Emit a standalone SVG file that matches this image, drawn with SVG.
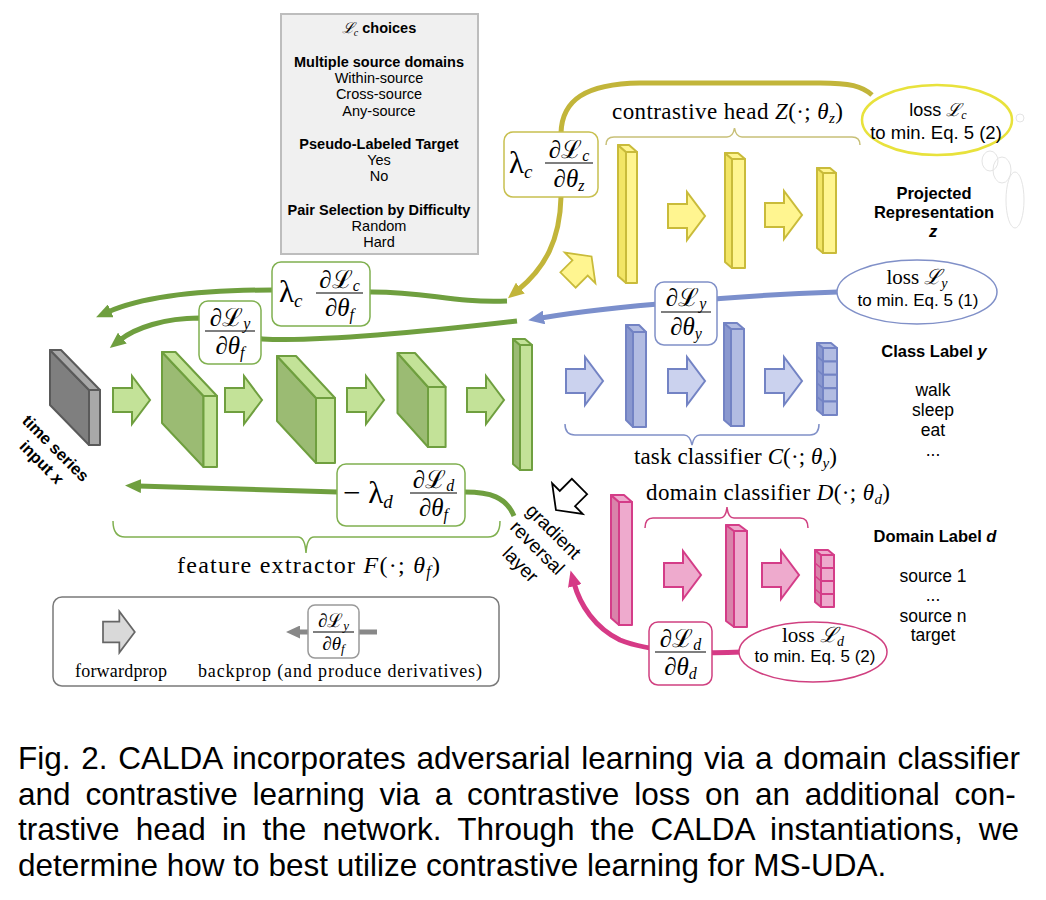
<svg xmlns="http://www.w3.org/2000/svg" width="1046" height="900" viewBox="0 0 1046 900">
<style>
.sans{font-family:"Liberation Sans",Arial,sans-serif;}
.serif,.mt{font-family:"Liberation Serif","DejaVu Serif",serif;}
.b{font-weight:bold;}
.i{font-style:italic;}
.mid{text-anchor:middle;}
.k-dk{fill:#7f7f7f;stroke:#5a5a5a;stroke-width:2;stroke-linejoin:round;}
.k-lt{fill:#a8a8a8;stroke:#5a5a5a;stroke-width:2;stroke-linejoin:round;}
.g-dk{fill:#9bbb73;stroke:#6f9f3f;stroke-width:2;stroke-linejoin:round;}
.g-lt{fill:#c3e298;stroke:#6f9f3f;stroke-width:2;stroke-linejoin:round;}
.y-dk{fill:#f2e565;stroke:#c9bb3a;stroke-width:2;stroke-linejoin:round;}
.y-lt{fill:#fff590;stroke:#c9bb3a;stroke-width:2;stroke-linejoin:round;}
.b-dk{fill:#8a98cf;stroke:#7383c4;stroke-width:2;stroke-linejoin:round;}
.b-lt{fill:#b2bce2;stroke:#7383c4;stroke-width:2;stroke-linejoin:round;}
.p-dk{fill:#d983aa;stroke:#d43d88;stroke-width:2;stroke-linejoin:round;}
.p-lt{fill:#eeaacd;stroke:#d43d88;stroke-width:2;stroke-linejoin:round;}
.fa-g{fill:#c3e298;stroke:#6f9f3f;stroke-width:2;stroke-linejoin:miter;}
.fa-y{fill:#fff590;stroke:#c9bb3a;stroke-width:2;}
.fa-b{fill:#cbd2ee;stroke:#7383c4;stroke-width:2;}
.fa-p{fill:#eeaacd;stroke:#d43d88;stroke-width:2;}
.fa-k{fill:#d9d9d9;stroke:#666;stroke-width:2;}
.fa-w{fill:#fff;stroke:#000;stroke-width:2;}
.brace{fill:none;stroke-width:1.5;}
.bk{fill:none;stroke-width:5;stroke-linecap:butt;}
.box{fill:#fff;stroke-width:1.5;}
.fbar{stroke:#000;stroke-width:1.2;}
</style>
<defs>
<path id="barrow" d="M0,-12 L19,-12 L19,-24 L37,0 L19,24 L19,12 L0,12 Z"/>
<marker id="ah-g" markerUnits="userSpaceOnUse" markerWidth="16" markerHeight="14" viewBox="0 0 16 14" refX="3" refY="7" orient="auto"><path d="M0,0 L16,7 L0,14 Z" fill="#6f9f3f"/></marker>
<marker id="ah-y" markerUnits="userSpaceOnUse" markerWidth="16" markerHeight="14" viewBox="0 0 16 14" refX="3" refY="7" orient="auto"><path d="M0,0 L16,7 L0,14 Z" fill="#c2b53a"/></marker>
<marker id="ah-b" markerUnits="userSpaceOnUse" markerWidth="16" markerHeight="14" viewBox="0 0 16 14" refX="3" refY="7" orient="auto"><path d="M0,0 L16,7 L0,14 Z" fill="#7b8fcc"/></marker>
<marker id="ah-p" markerUnits="userSpaceOnUse" markerWidth="16" markerHeight="14" viewBox="0 0 16 14" refX="3" refY="7" orient="auto"><path d="M0,0 L16,7 L0,14 Z" fill="#d63a86"/></marker>
<marker id="ah-k" markerUnits="userSpaceOnUse" markerWidth="14" markerHeight="13" viewBox="0 0 14 13" refX="2" refY="6.5" orient="auto"><path d="M0,0 L14,6.5 L0,13 Z" fill="#888"/></marker>
</defs>

<!-- Lc choices box -->
<g id="lc-choices">
<rect x="281" y="14" width="197" height="240" fill="#f0f0f0" stroke="#bdbdbd" stroke-width="2"/>
<g class="sans mid" font-size="14.5">
<text x="379" y="33" class="b"><tspan class="i serif" font-weight="normal" font-size="15">ℒ</tspan><tspan class="i serif" font-weight="normal" font-size="10" dy="3">c</tspan><tspan dy="-3"> choices</tspan></text>
<text x="379" y="67" class="b">Multiple source domains</text>
<text x="379" y="83">Within-source</text>
<text x="379" y="99">Cross-source</text>
<text x="379" y="116">Any-source</text>
<text x="379" y="149" class="b">Pseudo-Labeled Target</text>
<text x="379" y="165">Yes</text>
<text x="379" y="181">No</text>
<text x="379" y="215" class="b">Pair Selection by Difficulty</text>
<text x="379" y="231">Random</text>
<text x="379" y="247">Hard</text>
</g>
</g>

<!-- input -->
<g id="input">
<polygon class="k-dk" points="50,350 89,390 89,445 50,405"/>
<polygon class="k-lt" points="50,350 61,350 100,390 89,390"/>
<rect class="k-lt" x="89" y="390" width="11" height="55"/>
<g transform="translate(56,448) rotate(45)" class="sans b mid" font-size="16.5">
<text x="0" y="6">time series</text>
<text x="0" y="26">input <tspan class="i">x</tspan></text>
</g>
</g>

<!-- feature extractor -->
<g id="feature-extractor">
<use href="#barrow" class="fa-g" transform="translate(113,400)"/>
<polygon class="g-dk" points="162,352 203.5,396 203.5,467 162,423"/>
<polygon class="g-lt" points="162,352 175.5,352 217,396 203.5,396"/>
<rect class="g-lt" x="203.5" y="396" width="13.5" height="71"/>
<use href="#barrow" class="fa-g" transform="translate(225,400)"/>
<polygon class="g-dk" points="277,356 316,398 316,463 277,421"/>
<polygon class="g-lt" points="277,356 296,356 335,398 316,398"/>
<rect class="g-lt" x="316" y="398" width="19" height="65"/>
<use href="#barrow" class="fa-g" transform="translate(347,400)"/>
<polygon class="g-dk" points="397.5,353 428,387 428,447 397.5,413"/>
<polygon class="g-lt" points="397.5,353 415,353 445.6,387 428,387"/>
<rect class="g-lt" x="428" y="387" width="17.6" height="60"/>
<use href="#barrow" class="fa-g" transform="translate(467,400)"/>
<polygon class="g-dk" points="513,339 520,345 520,470 513,464"/>
<polygon class="g-lt" points="513,339 525,339 532,345 520,345"/>
<rect class="g-lt" x="520" y="345" width="12" height="125"/>
<path class="brace" stroke="#80b050" d="M113,521 Q113,537 125,537 L298,537 Q305,537 306,553 Q307,537 314,537 L488,537 Q500,537 500,521"/>
<text class="serif" x="177" y="573" font-size="24" textLength="263">feature extractor <tspan class="i">F</tspan>(·; <tspan class="i">θ</tspan><tspan class="i" font-size="16" dy="4">f</tspan><tspan dy="-4">)</tspan></text>
</g>

<!-- contrastive head -->
<g id="contrastive-head">
<polygon class="y-dk" points="618,145 626,152 626,283 618,276"/>
<polygon class="y-lt" points="618,145 629,145 637,152 626,152"/>
<rect class="y-lt" x="626" y="152" width="11" height="131"/>
<use href="#barrow" class="fa-y" transform="translate(668,216)"/>
<polygon class="y-dk" points="725,153 732,159 732,268 725,262"/>
<polygon class="y-lt" points="725,153 738,153 745,159 732,159"/>
<rect class="y-lt" x="732" y="159" width="13" height="109"/>
<use href="#barrow" class="fa-y" transform="translate(765,215)"/>
<polygon class="y-dk" points="817,168 823,173 823,253 817,248"/>
<polygon class="y-lt" points="817,168 830,168 836,173 823,173"/>
<rect class="y-lt" x="823" y="173" width="13" height="80"/>
<use href="#barrow" class="fa-y" transform="translate(568,280) rotate(-45) scale(0.9)"/>
<path class="brace" stroke="#c8c078" d="M606,145 Q606,137 614,137 L727,137 Q733,137 734.5,128 Q736,137 742,137 L852,137 Q860,137 860,145"/>
<text class="serif" x="612" y="119" font-size="23" textLength="231">contrastive head <tspan class="i">Z</tspan>(·; <tspan class="i">θ</tspan><tspan class="i" font-size="15" dy="4">z</tspan><tspan dy="-4">)</tspan></text>
</g>

<!-- task classifier -->
<g id="task-classifier">
<use href="#barrow" class="fa-b" transform="translate(566,381)"/>
<polygon class="b-dk" points="626,325 633,332 633,427 626,420"/>
<polygon class="b-lt" points="626,325 639,325 646,332 633,332"/>
<rect class="b-lt" x="633" y="332" width="13" height="95"/>
<use href="#barrow" class="fa-b" transform="translate(668,381)"/>
<polygon class="b-dk" points="724,323 731,329 731,426 724,420"/>
<polygon class="b-lt" points="724,323 737,323 744,329 731,329"/>
<rect class="b-lt" x="731" y="329" width="13" height="97"/>
<use href="#barrow" class="fa-b" transform="translate(765,381)"/>
<polygon class="b-dk" points="817,343 823,348 823,415 817,410"/>
<polygon class="b-lt" points="817,343 831,343 837,348 823,348"/>
<rect class="b-lt" x="823" y="348" width="14" height="13.4"/>
<rect class="b-lt" x="823" y="361.4" width="14" height="13.4"/>
<rect class="b-lt" x="823" y="374.8" width="14" height="13.4"/>
<rect class="b-lt" x="823" y="388.2" width="14" height="13.4"/>
<rect class="b-lt" x="823" y="401.6" width="14" height="13.4"/>
<path d="M817,356.4 L823,361.4 M817,369.8 L823,374.8 M817,383.2 L823,388.2 M817,396.6 L823,401.6" stroke="#7383c4" stroke-width="1.5"/>
<path class="brace" stroke="#8090c8" d="M565,424 Q565,435 575,435 L684,435 Q690,435 692,445 Q694,435 700,435 L810,435 Q819,435 819,424"/>
<text class="serif" x="634" y="464" font-size="23" textLength="203">task classifier <tspan class="i">C</tspan>(·; <tspan class="i">θ</tspan><tspan class="i" font-size="15" dy="4">y</tspan><tspan dy="-4">)</tspan></text>
</g>

<!-- domain classifier -->
<g id="domain-classifier">
<polygon class="p-dk" points="611,495 619,502 619,625 611,618"/>
<polygon class="p-lt" points="611,495 624,495 632,502 619,502"/>
<rect class="p-lt" x="619" y="502" width="13" height="123"/>
<use href="#barrow" class="fa-p" transform="translate(664,575)"/>
<polygon class="p-dk" points="726,525 734,531 734,627 726,621"/>
<polygon class="p-lt" points="726,525 739,525 747,531 734,531"/>
<rect class="p-lt" x="734" y="531" width="13" height="96"/>
<use href="#barrow" class="fa-p" transform="translate(762,575)"/>
<polygon class="p-dk" points="815,550 821,555 821,607 815,602"/>
<polygon class="p-lt" points="815,550 828,550 834,555 821,555"/>
<rect class="p-lt" x="821" y="555" width="13" height="13"/>
<rect class="p-lt" x="821" y="568" width="13" height="13"/>
<rect class="p-lt" x="821" y="581" width="13" height="13"/>
<rect class="p-lt" x="821" y="594" width="13" height="13"/>
<path d="M815,563 L821,568 M815,576 L821,581 M815,589 L821,594" stroke="#d43d88" stroke-width="1.5"/>
<path class="brace" stroke="#d04080" d="M645,528 Q645,518 653,518 L720,518 Q726,518 727,507 Q728,518 734,518 L800,518 Q808,518 808,528"/>
<text class="serif" x="646" y="500" font-size="23" textLength="244">domain classifier <tspan class="i">D</tspan>(·; <tspan class="i">θ</tspan><tspan class="i" font-size="15" dy="4">d</tspan><tspan dy="-4">)</tspan></text>
</g>

<!-- gradient reversal layer -->
<g id="gradient-reversal">
<use href="#barrow" class="fa-w" transform="translate(579.5,486.5) rotate(135) scale(0.9)"/>
<g transform="translate(554,531) rotate(45)" class="sans mid" font-size="19">
<text x="0" y="7">gradient</text>
<text x="0" y="30">reversal</text>
<text x="0" y="54">layer</text>
</g>
</g>

<!-- faint artifacts near contrastive loss -->
<g id="cloud" fill="none" stroke="#e4e4e4" stroke-width="1">
<circle cx="1020" cy="118" r="4"/>
<ellipse cx="990" cy="161" rx="8" ry="10"/>
<ellipse cx="1002" cy="170" rx="9" ry="13"/>
<ellipse cx="1015" cy="200" rx="9" ry="28"/>
</g>

<!-- connectors -->
<g id="connectors">
<path class="bk" stroke="#6f9f3f" marker-end="url(#ah-g)" d="M507,301 C 450,303 430,292 372,292 L 272,290 C 190,290 140,298 108,312"/>
<path class="bk" stroke="#6f9f3f" marker-end="url(#ah-g)" d="M517,321 C 440,330 320,342 262,339 L 199,318 C 165,318 135,328 120,340"/>
<path class="bk" stroke="#6f9f3f" marker-end="url(#ah-g)" d="M514,516 C 506,497 490,492 465,492 L 337,492 L 138,486"/>
<path class="bk" stroke="#c2b53a" marker-end="url(#ah-y)" d="M872,95 C 862,86 850,83 820,83 L 640,83 C 585,84 562,100 561,133 L 561,197 C 560,240 545,268 518,290"/>
<path class="bk" stroke="#7b8fcc" marker-end="url(#ah-b)" d="M838,292 C 780,294 720,298 680,302 C 620,307 570,313 541,318"/>
<path class="bk" stroke="#d63a86" marker-end="url(#ah-p)" d="M742,652 C 700,654 650,652 620,640 C 595,628 580,605 574,583"/>
</g>

<!-- derivative boxes -->
<g id="grad-c-f">
<rect class="box" stroke="#80b050" x="272" y="262" width="98" height="64" rx="9"/>
<text class="mt" x="279" y="302" font-size="31">λ<tspan class="i" font-size="19" dy="5">c</tspan></text>
<text class="mt mid" x="339.5" y="288" font-size="25">∂ℒ<tspan class="i" font-size="16" dy="3">c</tspan></text>
<line class="fbar" x1="316" y1="293" x2="363" y2="293"/>
<text class="mt mid" x="339.5" y="316" font-size="25">∂<tspan class="i">θ</tspan><tspan class="i" font-size="16" dy="4">f</tspan></text>
</g>
<g id="grad-y-f">
<rect class="box" stroke="#80b050" x="199" y="301" width="62" height="63" rx="9"/>
<text class="mt mid" x="230" y="326" font-size="25">∂ℒ<tspan class="i" font-size="16" dy="3">y</tspan></text>
<line class="fbar" x1="205" y1="331" x2="255" y2="331"/>
<text class="mt mid" x="230" y="354" font-size="25">∂<tspan class="i">θ</tspan><tspan class="i" font-size="16" dy="4">f</tspan></text>
</g>
<g id="grad-d-f">
<rect class="box" stroke="#80b050" x="337" y="464" width="128" height="62" rx="9"/>
<text class="mt" x="343" y="503" font-size="31">− λ<tspan class="i" font-size="19" dy="5">d</tspan></text>
<text class="mt mid" x="433.5" y="488" font-size="25">∂ℒ<tspan class="i" font-size="16" dy="3">d</tspan></text>
<line class="fbar" x1="410" y1="493" x2="457" y2="493"/>
<text class="mt mid" x="433.5" y="516" font-size="25">∂<tspan class="i">θ</tspan><tspan class="i" font-size="16" dy="4">f</tspan></text>
</g>
<g id="grad-c-z">
<rect class="box" stroke="#c8c050" x="504" y="132" width="94" height="65" rx="9"/>
<text class="mt" x="509" y="173" font-size="31">λ<tspan class="i" font-size="19" dy="5">c</tspan></text>
<text class="mt mid" x="569" y="158" font-size="25">∂ℒ<tspan class="i" font-size="16" dy="3">c</tspan></text>
<line class="fbar" x1="545" y1="163" x2="593" y2="163"/>
<text class="mt mid" x="569" y="187" font-size="25">∂<tspan class="i">θ</tspan><tspan class="i" font-size="16" dy="4">z</tspan></text>
</g>
<g id="grad-y-y">
<rect class="box" stroke="#8090c8" x="655" y="282" width="62" height="63" rx="9"/>
<text class="mt mid" x="686" y="306" font-size="25">∂ℒ<tspan class="i" font-size="16" dy="3">y</tspan></text>
<line class="fbar" x1="661" y1="312" x2="711" y2="312"/>
<text class="mt mid" x="686" y="335" font-size="25">∂<tspan class="i">θ</tspan><tspan class="i" font-size="16" dy="4">y</tspan></text>
</g>
<g id="grad-d-d">
<rect class="box" stroke="#d04080" x="649" y="622" width="63" height="63" rx="9"/>
<text class="mt mid" x="680.5" y="647" font-size="25">∂ℒ<tspan class="i" font-size="16" dy="3">d</tspan></text>
<line class="fbar" x1="655" y1="652" x2="706" y2="652"/>
<text class="mt mid" x="680.5" y="675" font-size="25">∂<tspan class="i">θ</tspan><tspan class="i" font-size="16" dy="4">d</tspan></text>
</g>

<!-- losses -->
<g id="loss-c">
<ellipse cx="937" cy="120" rx="75" ry="35" fill="#fff" stroke="#e8e23c" stroke-width="2.5"/>
<text class="sans mid" x="938" y="116" font-size="18">loss <tspan class="i serif" font-size="18">ℒ</tspan><tspan class="i serif" font-size="12" dy="3">c</tspan></text>
<text class="sans mid" x="936" y="139" font-size="18.5">to min. Eq. 5 (2)</text>
</g>
<g id="loss-y">
<ellipse cx="917" cy="292" rx="80" ry="32" fill="#fff" stroke="#8090c8" stroke-width="1.5"/>
<text class="serif mid" x="917" y="284" font-size="21">loss <tspan class="i">ℒ</tspan><tspan class="i" font-size="14" dy="4">y</tspan></text>
<text class="sans mid" x="918" y="306" font-size="17">to min. Eq. 5 (1)</text>
</g>
<g id="loss-d">
<ellipse cx="813" cy="652" rx="74" ry="30" fill="#fff" stroke="#d04080" stroke-width="1.5"/>
<text class="serif mid" x="813" y="642" font-size="21">loss <tspan class="i">ℒ</tspan><tspan class="i" font-size="14" dy="4">d</tspan></text>
<text class="sans mid" x="815" y="662" font-size="17">to min. Eq. 5 (2)</text>
</g>

<!-- output labels -->
<g id="label-z" class="sans b mid" font-size="16.5">
<text x="934" y="199">Projected</text>
<text x="934" y="218">Representation</text>
<text x="933" y="237" class="i">z</text>
</g>
<g id="label-y" class="sans mid">
<text x="934" y="357" font-size="16.5" class="b">Class Label <tspan class="i">y</tspan></text>
<text x="933" y="396" font-size="17.5">walk</text>
<text x="933" y="416" font-size="17.5">sleep</text>
<text x="933" y="436" font-size="17.5">eat</text>
<text x="933" y="456" font-size="17.5">...</text>
</g>
<g id="label-d" class="sans mid">
<text x="935" y="542" font-size="16.5" class="b">Domain Label <tspan class="i">d</tspan></text>
<text x="933" y="582" font-size="17.5">source 1</text>
<text x="933" y="601" font-size="17.5">...</text>
<text x="933" y="622" font-size="17.5">source n</text>
<text x="933" y="641" font-size="17.5">target</text>
</g>

<!-- legend -->
<g id="legend">
<rect x="53" y="597" width="446" height="89" rx="9" fill="none" stroke="#7a7a7a" stroke-width="1.5"/>
<use href="#barrow" class="fa-k" transform="translate(103,632) scale(0.86)"/>
<text class="serif" x="75" y="677" font-size="18" textLength="92">forwardprop</text>
<path d="M377,632 L298,632" stroke="#888" stroke-width="5" fill="none" marker-end="url(#ah-k)"/>
<rect class="box" stroke="#999" x="308" y="605" width="51" height="53" rx="7"/>
<text class="mt mid" x="333.5" y="627" font-size="19">∂ℒ<tspan class="i" font-size="13" dy="3">y</tspan></text>
<line x1="313" y1="632" x2="354" y2="632" stroke="#000" stroke-width="1"/>
<text class="mt mid" x="333.5" y="650" font-size="19">∂<tspan class="i">θ</tspan><tspan class="i" font-size="13" dy="3">f</tspan></text>
<text class="serif" x="198" y="677" font-size="18" textLength="284">backprop (and produce derivatives)</text>
</g>

<!-- caption -->
<g id="caption" class="sans" font-size="31.5" fill="#000">
<text x="18" y="769" word-spacing="2">Fig. 2. CALDA incorporates adversarial learning via a domain classifier</text>
<text x="18" y="804.5" word-spacing="6.1">and contrastive learning via a contrastive loss on an additional con-</text>
<text x="18" y="840" word-spacing="7.4">trastive head in the network. Through the CALDA instantiations, we</text>
<text x="18" y="875.5">determine how to best utilize contrastive learning for MS-UDA.</text>
</g>
</svg>
